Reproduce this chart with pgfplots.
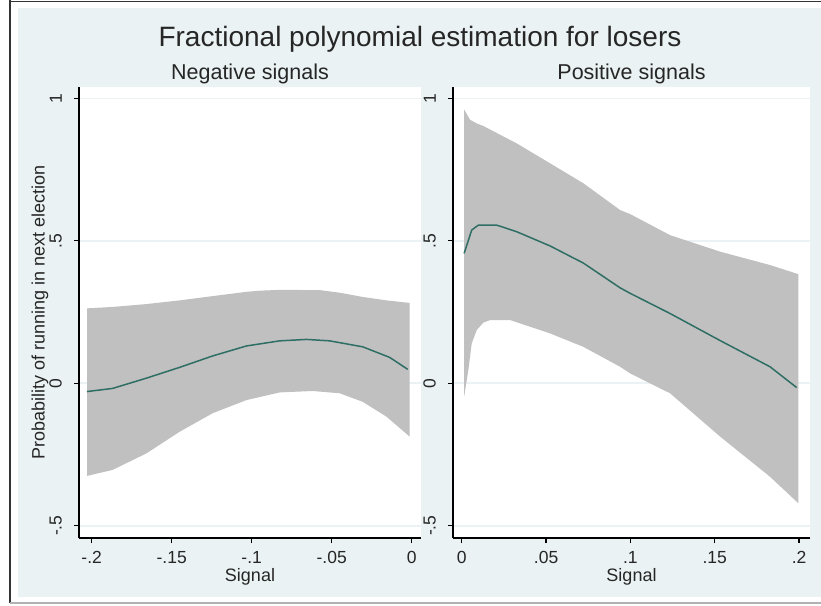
\documentclass[border=0pt]{standalone}
\usepackage{fontspec}
\setmainfont{Liberation Sans}
\usepackage{pgfplots}
\pgfplotsset{compat=1.18}
\definecolor{stbg}{RGB}{234,242,243}
\definecolor{band}{RGB}{192,192,192}
\definecolor{fitline}{RGB}{46,110,100}
\pgfplotsset{
  stata/.style={
    scale only axis, height=451pt, ymin=-0.543, ymax=1.040,
    axis x line*=bottom, axis y line*=left,
    axis line style={black, line width=1.2pt, -},
    every outer x axis line/.append style={-},
    every outer y axis line/.append style={-},
    axis background/.style={fill=white},
    ytick={-0.5,0,0.5,1}, yticklabels={-.5,0,.5,1},
    ymajorgrids, grid style={stbg, line width=1.6pt},
    tick align=outside, major tick length=5pt,
    tick style={black, line width=1.2pt},
    every tick label/.append style={font=\fontsize{17.5}{20}\selectfont, inner sep=0pt, text=black!85},
    yticklabel style={rotate=90, anchor=south},
    xticklabel style={anchor=north},
    yticklabel shift=12pt,
    xticklabel shift=8.5pt,
    xlabel style={font=\fontsize{18}{21}\selectfont, text=black!85, at={(axis description cs:0.5,0)}, anchor=north, yshift=-30.5pt, inner sep=0pt},
    ylabel style={font=\fontsize{18}{21}\selectfont, text=black!85, at={(axis description cs:-0.089,0.5)}, rotate=0, anchor=south, inner sep=0pt},
  }
}
\begin{document}
\begin{tikzpicture}
\useasboundingbox (0,0) rectangle (821pt,605pt);
\fill[white] (0,0) rectangle (821pt,605pt);
\fill[stbg] (18pt,8pt) rectangle (821pt,597pt);
\draw[black!80, line width=1.5pt] (10pt,2pt) -- (10pt,605pt);
\draw[black!80, line width=1.5pt] (10pt,603.5pt) -- (821pt,603.5pt);
\draw[black!30, line width=1.5pt] (10pt,2pt) -- (821pt,2pt);

\node[anchor=base, font=\fontsize{28}{32}\selectfont, text=black!85] at (420pt,558pt) {Fractional polynomial estimation for losers};
\node[anchor=base, font=\fontsize{21.5}{25}\selectfont, text=black!85] at (250pt,525pt) {Negative signals};
\node[anchor=base, font=\fontsize{21.5}{25}\selectfont, text=black!85] at (631.5pt,525pt) {Positive signals};

\begin{axis}[stata, at={(79pt,67pt)}, anchor=south west, width=342pt,
  xmin=-0.2079, xmax=0.0058,
  xtick={-0.2,-0.15,-0.1,-0.05,0}, xticklabels={-.2,-.15,-.1,-.05,0},
  xlabel={Signal}, ylabel={Probability of running in next election}]
\addplot[fill=band, draw=none] coordinates {
  (-0.2029,0.263) (-0.1869,0.268) (-0.1658,0.278) (-0.145,0.291) (-0.1244,0.306)
  (-0.1033,0.321) (-0.095,0.325) (-0.0825,0.328) (-0.0575,0.327) (-0.045,0.318)
  (-0.0306,0.303) (-0.0158,0.291) (-0.0013,0.282)
  (-0.0013,-0.187) (-0.0158,-0.117) (-0.0306,-0.065) (-0.045,-0.035) (-0.0619,-0.027)
  (-0.0825,-0.032) (-0.1033,-0.059) (-0.1244,-0.105) (-0.145,-0.170) (-0.1658,-0.246)
  (-0.1869,-0.304) (-0.2029,-0.325)
} -- cycle;
\addplot[fitline, line width=1.5pt] coordinates {
  (-0.2029,-0.029) (-0.1869,-0.018) (-0.1658,0.018) (-0.145,0.056) (-0.1244,0.096)
  (-0.1033,0.131) (-0.0825,0.149) (-0.0658,0.154) (-0.0513,0.149) (-0.0306,0.128)
  (-0.0138,0.091) (-0.0025,0.049)
};
\end{axis}

\begin{axis}[stata, at={(453pt,67pt)}, anchor=south west, width=357pt,
  xmin=-0.0052, xmax=0.2065,
  xtick={0,0.05,0.1,0.15,0.2}, xticklabels={0,.05,.1,.15,.2},
  xlabel={Signal}]
\addplot[fill=band, draw=none] coordinates {
  (0.0014,0.961) (0.0049,0.925) (0.0089,0.912) (0.0128,0.903) (0.0326,0.842)
  (0.0524,0.772) (0.0721,0.702) (0.0939,0.608) (0.0998,0.594) (0.1235,0.520)
  (0.1532,0.462) (0.1828,0.415) (0.1996,0.383)
  (0.1996,-0.421) (0.1828,-0.328) (0.1532,-0.187) (0.1235,-0.035) (0.0998,0.035)
  (0.0939,0.058) (0.0721,0.128) (0.0524,0.175) (0.0286,0.222) (0.0168,0.222)
  (0.0128,0.213) (0.0089,0.187) (0.0059,0.140) (0.0039,0.047) (0.0014,-0.047)
} -- cycle;
\addplot[fitline, line width=1.5pt] coordinates {
  (0.0014,0.456) (0.0059,0.538) (0.0098,0.555) (0.0208,0.555) (0.0326,0.532)
  (0.0524,0.482) (0.0721,0.422) (0.0939,0.335) (0.0998,0.316) (0.1235,0.245)
  (0.1532,0.150) (0.1828,0.058) (0.1986,-0.015)
};
\end{axis}
\end{tikzpicture}
\end{document}
